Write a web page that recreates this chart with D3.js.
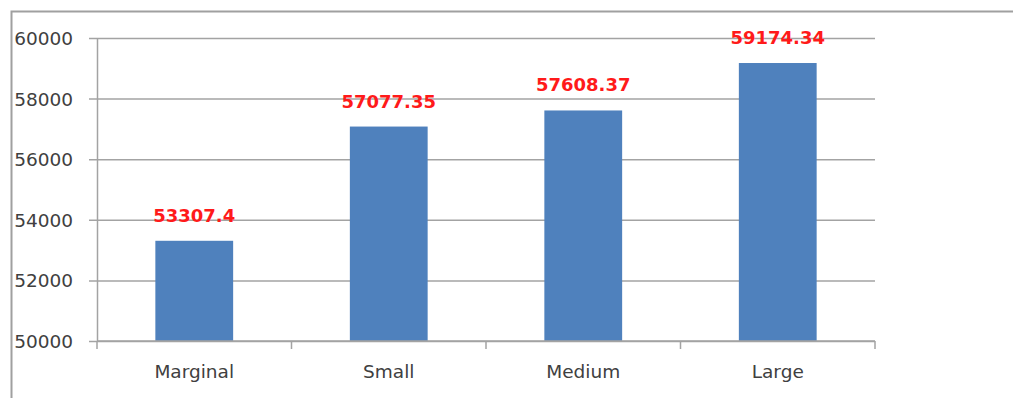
<!DOCTYPE html>
<html>
<head>
<meta charset="utf-8">
<script src="https://cdn.jsdelivr.net/npm/d3@7"></script>
<style>
  html, body { margin: 0; padding: 0; background: #fff; }
  svg { display: block; }
</style>
</head>
<body>
<svg id="chart" width="1013" height="398"></svg>
<script>
// Average value by category size
const categories = ["Marginal", "Small", "Medium", "Large"];
const values = [53307.4, 57077.35, 57608.37, 59174.34];
const valueLabels = ["53307.4", "57077.35", "57608.37", "59174.34"];
const yTicks = [50000, 52000, 54000, 56000, 58000, 60000];

const svg = d3.select("#chart");
const W = 1013, H = 398;
const plot = { left: 97, right: 875, top: 38, bottom: 341 };

const gridColor = "#a3a3a3";
const textColor = "#404040";
const barColor = "#4f81bd";
const labelFont = "'DejaVu Sans', sans-serif";

// chart frame
svg.append("path")
  .attr("d", `M11.5,${H} V11.5 H${W}`)
  .attr("fill", "none")
  .attr("stroke", "#a0a0a0")
  .attr("stroke-width", 2);

const x = d3.scaleBand()
  .domain(categories)
  .range([plot.left, plot.right])
  .paddingInner(0.6)
  .paddingOuter(0.3);

const y = d3.scaleLinear()
  .domain([50000, 60000])
  .range([plot.bottom, plot.top]);

// horizontal gridlines with left tick marks and labels
const yAxis = d3.axisLeft(y)
  .tickValues(yTicks)
  .tickFormat(d3.format("d"))
  .tickSize(-(plot.right - plot.left))
  .tickSizeOuter(0)
  .tickPadding(0);

const gy = svg.append("g")
  .attr("transform", `translate(${plot.left},0)`)
  .call(yAxis);
gy.select(".domain").attr("stroke", gridColor).attr("stroke-width", 1.5);
gy.selectAll(".tick line")
  .attr("stroke", gridColor)
  .attr("stroke-width", 1.5)
  .attr("x1", -8);
gy.selectAll(".tick text")
  .attr("x", -24)
  .attr("dy", "0.35em")
  .attr("fill", textColor)
  .style("font-family", labelFont)
  .style("font-size", "18.5px");

// bars
svg.append("g")
  .selectAll("rect")
  .data(values)
  .join("rect")
  .attr("x", (d, i) => x(categories[i]))
  .attr("width", x.bandwidth())
  .attr("y", d => y(d))
  .attr("height", d => y.range()[0] - y(d))
  .attr("fill", barColor);

// category axis with ticks between categories
const step = x.step();
const boundaries = d3.range(categories.length + 1)
  .map(i => plot.left + x.paddingOuter() * step - x.paddingInner() * step / 2 + i * step);

const gx = svg.append("g");
gx.append("line")
  .attr("x1", plot.left).attr("x2", plot.right)
  .attr("y1", y(50000)).attr("y2", y(50000))
  .attr("stroke", gridColor).attr("stroke-width", 1.5);
gx.selectAll("line.tick")
  .data(boundaries)
  .join("line")
  .attr("class", "tick")
  .attr("x1", d => d).attr("x2", d => d)
  .attr("y1", y(50000)).attr("y2", y(50000) + 8)
  .attr("stroke", gridColor).attr("stroke-width", 1.5);
gx.selectAll("text")
  .data(categories)
  .join("text")
  .attr("x", d => x(d) + x.bandwidth() / 2)
  .attr("y", 378)
  .attr("text-anchor", "middle")
  .attr("fill", textColor)
  .style("font-family", labelFont)
  .style("font-size", "18.5px")
  .text(d => d);

// value labels above bars
svg.append("g")
  .selectAll("text")
  .data(values)
  .join("text")
  .attr("x", (d, i) => x(categories[i]) + x.bandwidth() / 2)
  .attr("y", d => y(d) - 19)
  .attr("text-anchor", "middle")
  .attr("fill", "#ff1a1a")
  .style("font-family", labelFont)
  .style("font-weight", "bold")
  .style("font-size", "18px")
  .text((d, i) => valueLabels[i]);
</script>
</body>
</html>
